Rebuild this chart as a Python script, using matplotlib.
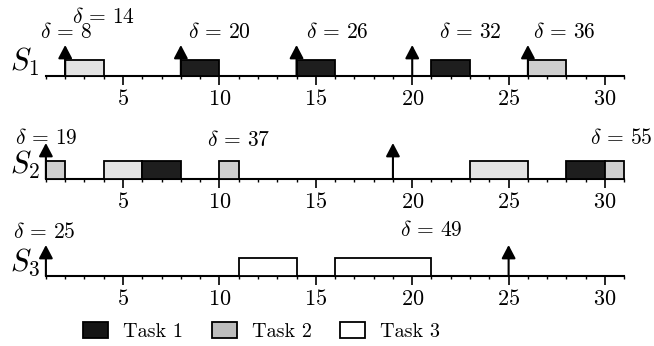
import matplotlib
matplotlib.use("Agg")
import matplotlib.pyplot as plt
from matplotlib.patches import Patch

plt.rcParams['font.family'] = 'cmr10'
plt.rcParams['mathtext.fontset'] = 'cm'
plt.rcParams['axes.formatter.use_mathtext'] = True

# colours of the task slots
DARK = '#1e1e1e'
LIGHT = '#e3e3e3'
GRAY = '#cfcfcf'
WHITE = '#ffffff'

# server rows
servers = [r'$S_1$', r'$S_2$', r'$S_3$']

# slots: (start, duration, colour) for each server
s1_start = [2, 8, 14, 21, 26]
s1_dur = [2, 2, 2, 2, 2]
s1_col = [LIGHT, DARK, DARK, DARK, GRAY]

s2_start = [1, 4, 6, 10, 23, 28, 30]
s2_dur = [1, 2, 2, 1, 3, 2, 1]
s2_col = [GRAY, LIGHT, DARK, GRAY, LIGHT, DARK, GRAY]

s3_start = [11, 16]
s3_dur = [3, 5]
s3_col = [WHITE, WHITE]

# release arrows
s1_arrows = [2, 8, 14, 20, 26]
s2_arrows = [1, 19]
s3_arrows = [1, 25]

# deadline labels: text, x position
s1_lab = [r'$\delta\,=\,8$', r'$\delta\,=\,14$', r'$\delta\,=\,20$', r'$\delta\,=\,26$',
          r'$\delta\,=\,32$', r'$\delta\,=\,36$']
s1_lab_x = [2.05, 4.0, 10.0, 16.1, 23.0, 27.9]
s2_lab = [r'$\delta\,=\,19$', r'$\delta\,=\,37$', r'$\delta\,=\,55$']
s2_lab_x = [1.0, 11.0, 30.85]
s3_lab = [r'$\delta\,=\,25$', r'$\delta\,=\,49$']
s3_lab_x = [0.9, 21.0]

starts = [s1_start, s2_start, s3_start]
durs = [s1_dur, s2_dur, s3_dur]
cols = [s1_col, s2_col, s3_col]
arrows = [s1_arrows, s2_arrows, s3_arrows]
labs = [s1_lab, s2_lab, s3_lab]
labs_x = [s1_lab_x, s2_lab_x, s3_lab_x]

# layout (pixel units above each baseline)
W, H = 654, 346
base_px = [76, 179, 276]
box_h = [16, 18, 18]
arrow_h = [31, 36, 31]
lab_y = [[44, 59, 44, 44, 44, 44], [41, 39, 41], [44, 46]]

fig = plt.figure(figsize=(W / 100, H / 100), dpi=100)
AH = 40
for i in range(3):
    ax = fig.add_axes([45.9 / W, (H - base_px[i]) / H, 578.4 / W, AH / H])
    ax.set_xlim(1, 31)
    ax.set_ylim(0, AH)
    for sp in ['top', 'left', 'right']:
        ax.spines[sp].set_visible(False)
    ax.spines['bottom'].set_linewidth(1.5)
    ax.set_yticks([])
    ax.set_xticks([5, 10, 15, 20, 25, 30])
    ax.set_xticks(range(1, 32), minor=True)
    ax.tick_params(axis='x', which='major', length=6.5, width=1.2, pad=3, labelsize=16)
    ax.tick_params(axis='x', which='minor', length=2.2, width=1.0)
    ax.patch.set_visible(False)

    ax.bar(starts[i], box_h[i], width=durs[i], align='edge', color=cols[i],
           edgecolor='black', linewidth=1.3, clip_on=False, zorder=3)
    for a in arrows[i]:
        ax.annotate('', xy=(a, arrow_h[i]), xytext=(a, 0),
                    arrowprops=dict(arrowstyle='-|>,head_length=0.8,head_width=0.42',
                                    mutation_scale=10, lw=1.5, color='black',
                                    shrinkA=0, shrinkB=0),
                    annotation_clip=False, zorder=4)
    for t, x, y in zip(labs[i], labs_x[i], lab_y[i]):
        ax.text(x, y, t, ha='center', va='center', fontsize=15.5, clip_on=False)
    ax.text(0.7, 5, servers[i], ha='right', va='baseline', fontsize=22, clip_on=False)

handles = [Patch(facecolor='#151515', edgecolor='black', linewidth=1.3, label='Task 1'),
           Patch(facecolor='#bdbdbd', edgecolor='black', linewidth=1.3, label='Task 2'),
           Patch(facecolor='white', edgecolor='black', linewidth=1.3, label='Task 3')]
fig.legend(handles=handles, loc='center', bbox_to_anchor=(0.40, 0.043), ncol=3,
           frameon=False, fontsize=14.5, handlelength=1.25, handleheight=0.85,
           handletextpad=0.75, columnspacing=1.4, borderpad=0, borderaxespad=0)

fig.savefig('out.png', dpi=100)
